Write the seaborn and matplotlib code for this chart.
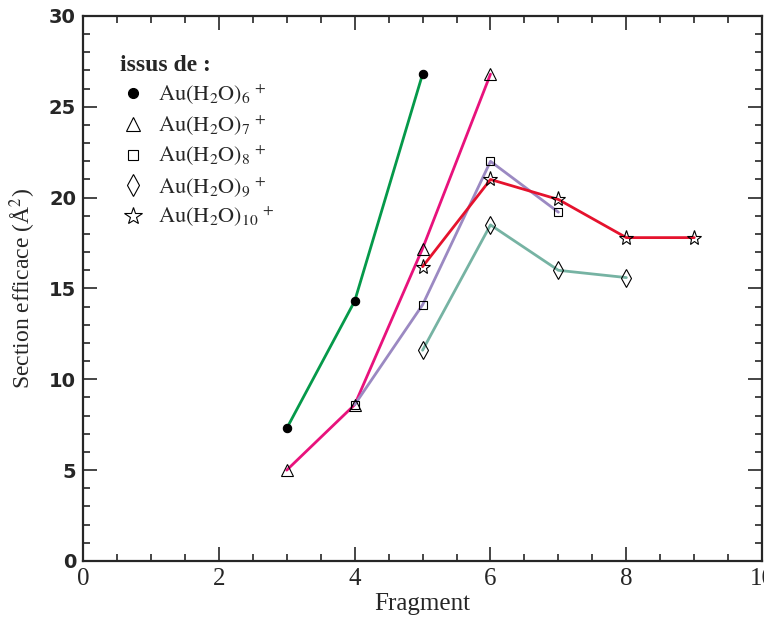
import pandas as pd
import seaborn as sns
import matplotlib.pyplot as plt
from matplotlib.ticker import MultipleLocator

# Data
frag_6 = [3, 4, 5]
sec_6 = [7.3, 14.3, 26.8]
frag_7 = [3, 4, 5, 6]
sec_7 = [5.0, 8.6, 17.2, 26.8]
frag_8 = [4, 5, 6, 7]
sec_8 = [8.6, 14.1, 22.0, 19.2]
frag_9 = [5, 6, 7, 8]
sec_9 = [11.6, 18.5, 16.0, 15.6]
frag_10 = [5, 6, 7, 8, 9]
sec_10 = [16.2, 21.0, 19.9, 17.8, 17.8]

labels = [r"$\mathrm{Au(H_2O)_6}^{\,+}$", r"$\mathrm{Au(H_2O)_7}^{\,+}$",
          r"$\mathrm{Au(H_2O)_8}^{\,+}$", r"$\mathrm{Au(H_2O)_9}^{\,+}$",
          r"$\mathrm{Au(H_2O)_{10}}^{\,+}$"]
colors = ["#05994a", "#e8127c", "#9b89c2", "#76b3a3", "#e5122d"]
markers = ["o", "^", "s", "d", "*"]

rows = []
for lab, xs, ys in zip(labels, [frag_6, frag_7, frag_8, frag_9, frag_10],
                       [sec_6, sec_7, sec_8, sec_9, sec_10]):
    for x, y in zip(xs, ys):
        rows.append({"Fragment": x, "Section": y, "serie": lab})
df = pd.DataFrame(rows)

sns.set_style("ticks")
plt.rcParams["font.family"] = ["Liberation Serif", "DejaVu Sans"]
plt.rcParams["mathtext.fontset"] = "stix"

fig = plt.figure(figsize=(7.64, 6.2), dpi=100)
ax = fig.add_axes([0.1086, 0.0952, 0.889, 0.879])

sns.lineplot(data=df, x="Fragment", y="Section", hue="serie", hue_order=labels,
             palette=colors, linewidth=2, legend=False, ax=ax)

for lab, m in zip(labels, markers):
    sub = df[df["serie"] == lab]
    filled = m == "o"
    size = {"o": 6, "^": 8, "s": 6, "d": 9, "*": 11}[m]
    ax.plot(sub["Fragment"], sub["Section"], linestyle="none", marker=m,
            markersize=size, markerfacecolor="black" if filled else "none",
            markeredgecolor="black", markeredgewidth=0.8, label=lab)

leg = ax.legend(title="issus de :", loc="upper left", bbox_to_anchor=(0.025, 0.965),
                frameon=False, prop={"size": 16}, handletextpad=0.5,
                labelspacing=0.3, handlelength=1.2, markerscale=1.2)
leg.get_title().set_fontsize(17)
leg.get_title().set_fontweight("bold")
leg._legend_box.align = "left"

ax.set_xlim(0, 10)
ax.set_ylim(0, 30)
ax.xaxis.set_major_locator(MultipleLocator(2))
ax.xaxis.set_minor_locator(MultipleLocator(0.5))
ax.yaxis.set_major_locator(MultipleLocator(5))
ax.yaxis.set_minor_locator(MultipleLocator(1))
ax.tick_params(which="both", direction="in", top=True, right=True, width=1.2)
ax.tick_params(which="major", length=10, pad=5)
ax.tick_params(which="minor", length=5)
for lbl in ax.get_xticklabels():
    lbl.set_fontsize(18)
for lbl in ax.get_yticklabels():
    lbl.set_family("DejaVu Sans")
    lbl.set_fontsize(14)
    lbl.set_fontweight("bold")
for sp in ax.spines.values():
    sp.set_linewidth(1.6)

ax.set_xlabel("Fragment", fontsize=18, labelpad=2)
ax.set_ylabel("Section efficace (Å$^2$)", fontsize=17, labelpad=8)

fig.savefig("out.png", dpi=100)
